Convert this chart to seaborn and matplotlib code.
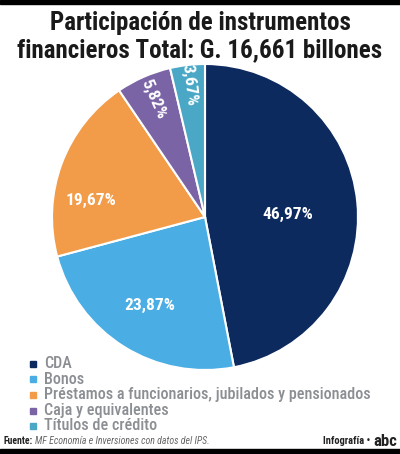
import matplotlib
matplotlib.use("Agg")
import matplotlib.pyplot as plt
import seaborn as sns
import numpy as np

categorias = ['CDA', 'Bonos', 'Préstamos a funcionarios, jubilados y pensionados',
              'Caja y equivalentes', 'Títulos de crédito']
porcentajes = [46.97, 23.87, 19.67, 5.82, 3.67]
etiquetas = ['46,97%', '23,87%', '19,67%', '5,82%', '3,67%']
colores = ['#0d2a5e', '#4aaee4', '#f29c4a', '#7a64a6', '#4aa8c6']

sns.set_theme(style='white')
plt.rcParams['font.family'] = ['Roboto Condensed', 'Barlow Condensed', 'DejaVu Sans']

fig = plt.figure(figsize=(4, 4.54), dpi=100)
fig.patch.set_facecolor('white')

# barras negras arriba y abajo
fig.add_artist(plt.Rectangle((0, 1 - 4 / 454), 1, 4 / 454, transform=fig.transFigure,
                             color='black', zorder=5))
fig.add_artist(plt.Rectangle((0, 0), 1, 5 / 454, transform=fig.transFigure,
                             color='black', zorder=5))

fig.text(0.5, 1 - 23 / 454, 'Participación de instrumentos', ha='center', va='center',
         fontsize=18, fontweight='bold', color='#1a1a1a')
fig.text(0.5, 1 - 50 / 454, 'financieros Total: G. 16,661 billones', ha='center', va='center',
         fontsize=18, fontweight='bold', color='#1a1a1a')

# pie: centro (205, 217), radio 153 px
ax = fig.add_axes([(205 - 153) / 400, 1 - (217 + 153) / 454, 306 / 400, 306 / 454])
wedges, _ = ax.pie(porcentajes, colors=colores, startangle=90, counterclock=False,
                   wedgeprops=dict(edgecolor='white', linewidth=1.5))
ax.set_xlim(-1, 1)
ax.set_ylim(-1, 1)
ax.set_aspect('equal')

dist = [0.54, 0.68, 0.75, 0.84, 0.87]
desvio = [-4, 0, 12, 0, 0]
for w, lab, d, dv in zip(wedges, etiquetas, dist, desvio):
    ang = (w.theta1 + w.theta2) / 2 + dv
    x = d * np.cos(np.deg2rad(ang))
    y = d * np.sin(np.deg2rad(ang))
    rot = 0
    if w.theta2 - w.theta1 < 30:
        rot = ang - 180
    ax.text(x, y, lab, ha='center', va='center', rotation=rot, color='white',
            fontsize=12.5, fontweight='bold', rotation_mode='anchor')

# leyenda
filas = [364, 379, 395, 411, 426]
for cat, col, fy in zip(categorias, colores, filas):
    yy = 1 - fy / 454
    fig.add_artist(plt.Rectangle((30 / 400, yy - 3 / 454), 6 / 400, 6 / 454,
                                 transform=fig.transFigure, color=col))
    fig.text(44 / 400, yy, cat, ha='left', va='center', fontsize=11.6, color='#8b8e92',
             fontweight='medium')

fig.text(4 / 400, 1 - 441 / 454, 'Fuente:', ha='left', va='center', fontsize=7,
         fontweight='bold', color='#222222')
fig.text(35 / 400, 1 - 441 / 454, 'MF Economía e Inversiones con datos del IPS.',
         ha='left', va='center', fontsize=7.1, style='italic', color='#666666')
fig.text(370 / 400, 1 - 441 / 454, 'Infografía •', ha='right', va='center',
         fontsize=7.5, fontweight='bold', color='#222222')
fig.text(397 / 400, 1 - 442 / 454, 'abc', ha='right', va='center',
         fontsize=12, fontweight='black', color='#222222')

fig.savefig('out.png', dpi=100, facecolor='white')
